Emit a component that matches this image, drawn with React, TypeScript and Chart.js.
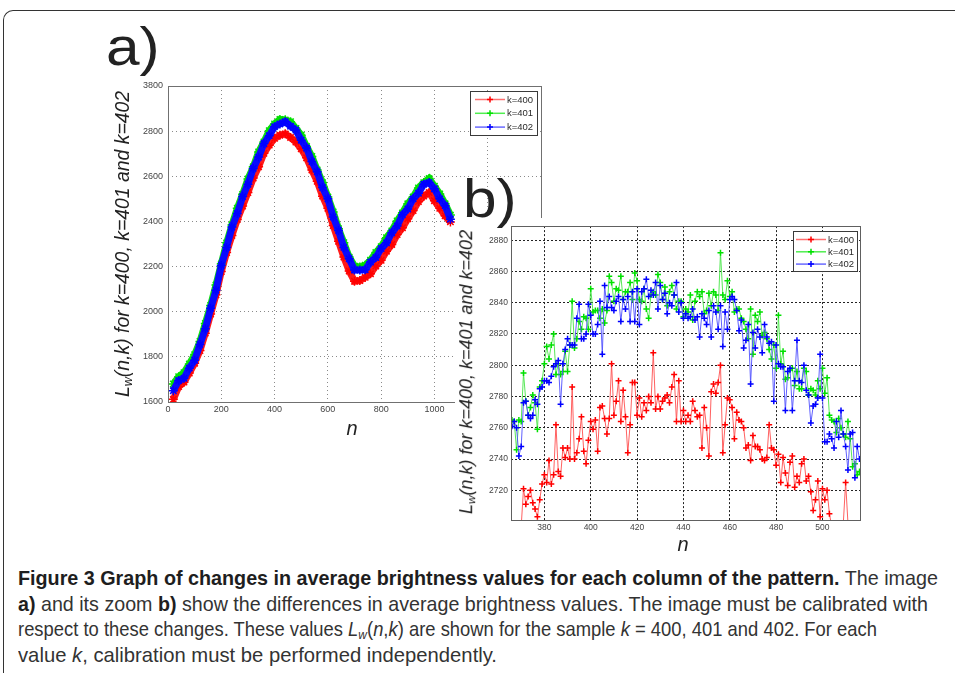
import React, { useEffect, useLayoutEffect, useRef } from 'react';
import { Chart, registerables } from 'chart.js';
Chart.register(...registerables);

// ---------- chart a) data (read every 20 columns) ----------
const aN = [20, 40, 60, 80, 100, 120, 140, 160, 180, 200, 220, 240, 260, 280, 300, 320, 340, 360, 380, 400,
  420, 440, 460, 480, 500, 520, 540, 560, 580, 600, 620, 640, 660, 680, 700, 720, 740, 760, 780, 800,
  820, 840, 860, 880, 900, 920, 940, 960, 980, 1000, 1020, 1040, 1060];
const aRed = [1612, 1668, 1688, 1728, 1772, 1828, 1905, 1990, 2075, 2178,
  2262, 2338, 2408, 2468, 2528, 2592, 2642, 2702, 2738, 2768,
  2782, 2788, 2772, 2752, 2722, 2682, 2628, 2578, 2512, 2458,
  2382, 2312, 2242, 2180, 2135, 2138, 2152, 2168, 2202, 2228,
  2268, 2298, 2342, 2372, 2412, 2448, 2488, 2512, 2528, 2492,
  2458, 2425, 2398];
const aGreen = [1680, 1712, 1730, 1768, 1810, 1868, 1948, 2028, 2118, 2212,
  2305, 2384, 2458, 2520, 2588, 2642, 2708, 2752, 2802, 2832,
  2852, 2850, 2842, 2812, 2782, 2732, 2688, 2628, 2572, 2508,
  2442, 2368, 2306, 2242, 2202, 2198, 2206, 2228, 2262, 2288,
  2328, 2358, 2402, 2438, 2478, 2508, 2548, 2572, 2590, 2556,
  2522, 2478, 2428];
const aBlue = [1650, 1695, 1705, 1750, 1785, 1855, 1925, 2015, 2095, 2205,
  2285, 2375, 2435, 2510, 2565, 2635, 2685, 2745, 2780, 2820,
  2832, 2842, 2822, 2805, 2760, 2725, 2665, 2620, 2550, 2500,
  2420, 2360, 2285, 2235, 2185, 2185, 2186, 2220, 2240, 2280,
  2305, 2350, 2380, 2430, 2455, 2500, 2525, 2565, 2572, 2545,
  2500, 2470, 2410];
const aXTicks = [0, 200, 400, 600, 800, 1000, 1200, 1400];
const aXTickLabels = ['0', '200', '400', '600', '800', '1000', '1200', '1400'];
const aYTicks = [1600, 1800, 2000, 2200, 2400, 2600, 2800, 3000];
const aYTickLabels = ['1600', '1800', '2000', '2200', '2400', '2600', '2800', '3800'];

// ---------- chart b) data (n = 366 ... 516) ----------
const bFirstN = 366;
const bRed = [2698, 2695, 2699, 2694, 2697,
  2721, 2711, 2716, 2720, 2712, 2708, 2703, 2714, 2724, 2730,
  2725, 2739, 2724, 2730, 2762, 2732, 2729, 2747, 2741, 2747,
  2740, 2786, 2740, 2744, 2753, 2767, 2745, 2737, 2752, 2764,
  2759, 2765, 2745, 2773, 2774, 2766, 2756, 2766, 2801, 2768,
  2777, 2790, 2764, 2784, 2767, 2744, 2762, 2789, 2789, 2768,
  2779, 2767, 2776, 2771, 2780, 2776, 2808, 2772, 2780, 2772,
  2777, 2779, 2781, 2776, 2786, 2794, 2764, 2790, 2764, 2771,
  2764, 2768, 2764, 2777, 2771, 2767, 2768, 2747, 2773, 2760,
  2742, 2783, 2788, 2782, 2789, 2800, 2744, 2762, 2779, 2778,
  2773, 2753, 2770, 2765, 2764, 2760, 2747, 2749, 2739, 2755,
  2748, 2748, 2746, 2740, 2739, 2741, 2762, 2747, 2746, 2736,
  2743, 2725, 2741, 2731, 2723, 2738, 2742, 2722, 2729, 2725,
  2737, 2740, 2726, 2729, 2719, 2707, 2714, 2726, 2703, 2721,
  2714, 2720, 2705, 2697,
  2690, 2686, 2692, 2688, 2699, 2725, 2699,
  2692, 2688, 2690, 2686, 2691];
const bGreen = [2765, 2764, 2746, 2765, 2764, 2795, 2777, 2768, 2773, 2781,
  2776, 2759, 2786, 2790, 2801, 2812, 2804, 2813, 2820, 2794,
  2801, 2794, 2796, 2809, 2796, 2813, 2841, 2811, 2817, 2828,
  2823, 2831, 2830, 2823, 2849, 2834, 2835, 2835, 2830, 2836,
  2827, 2835, 2857, 2853, 2841, 2849, 2848, 2857, 2842, 2847,
  2847, 2853, 2842, 2859, 2854, 2842, 2841, 2849, 2836, 2830,
  2845, 2847, 2845, 2858, 2853, 2842, 2850, 2838, 2847, 2851,
  2845, 2836, 2841, 2841, 2831, 2836, 2834, 2845, 2829, 2841,
  2847, 2844, 2847, 2833, 2835, 2846, 2838, 2847, 2845, 2835,
  2872, 2845, 2842, 2854, 2844, 2847, 2834, 2836, 2836, 2830,
  2828, 2823, 2817, 2836, 2807, 2832, 2828, 2834, 2819, 2821,
  2817, 2810, 2804, 2813, 2798, 2832, 2801, 2809, 2791, 2792,
  2797, 2798, 2787, 2796, 2785, 2785, 2798, 2796, 2781, 2785,
  2784, 2781, 2790, 2785, 2798, 2782, 2792, 2768, 2765, 2764,
  2757, 2766, 2760, 2756, 2754, 2764, 2753, 2735, 2737, 2730,
  2732];
const bBlue = [2761, 2764, 2760, 2742, 2748, 2776, 2777, 2768, 2766, 2768,
  2778, 2775, 2785, 2786, 2790, 2790, 2789, 2793, 2799, 2801,
  2803, 2775, 2801, 2810, 2817, 2813, 2813, 2813, 2830, 2839,
  2817, 2817, 2820, 2839, 2832, 2820, 2820, 2826, 2841, 2807,
  2851, 2837, 2844, 2837, 2835, 2841, 2844, 2828, 2842, 2836,
  2844, 2828, 2847, 2828, 2849, 2826, 2847, 2849, 2855, 2844,
  2848, 2845, 2853, 2836, 2851, 2842, 2846, 2833, 2840, 2838,
  2845, 2853, 2834, 2840, 2830, 2833, 2830, 2831, 2836, 2829,
  2831, 2818, 2833, 2830, 2826, 2835, 2818, 2838, 2834, 2823,
  2838, 2812, 2834, 2823, 2842, 2844, 2842, 2835, 2822, 2829,
  2811, 2816, 2826, 2788, 2821, 2811, 2823, 2818, 2808, 2826,
  2818, 2814, 2815, 2777, 2813, 2801, 2799, 2799, 2771, 2796,
  2798, 2771, 2790, 2816, 2790, 2789, 2800, 2784, 2781, 2763,
  2774, 2775, 2779, 2807, 2779, 2751, 2751, 2756, 2753, 2747,
  2764, 2754, 2771, 2756, 2748, 2733, 2756, 2757, 2728, 2748,
  2740];
const bXTicks = [380, 400, 420, 440, 460, 480, 500];
const bYTicks = [2720, 2740, 2760, 2780, 2800, 2820, 2840, 2860, 2880];

const seriesLabels = ['k=400', 'k=401', 'k=402'];
const markerColors = ['#ff0000', '#00e000', '#0000ff'];
const lineColorsA = ['#ff1a1a', '#10e010', '#0a0aff'];
const lineColorsB = ['rgba(255,80,80,0.9)', 'rgba(70,230,70,0.9)', 'rgba(80,80,255,0.9)'];
const legendLineColors = ['#ff7070', '#50ee50', '#6a6aff'];

const SANS = "'Liberation Sans', Arial, sans-serif";

const toPts = (xs: number[], ys: number[]) => xs.map((x, i) => ({ x, y: ys[i] }));
const bN = bBlue.map((_, i) => bFirstN + i);

function drawCross(ctx: CanvasRenderingContext2D, x: number, y: number, r: number) {
  ctx.beginPath();
  ctx.moveTo(x - r, y); ctx.lineTo(x + r, y);
  ctx.moveTo(x, y - r); ctx.lineTo(x, y + r);
  ctx.stroke();
}

const decoPlugin = {
  id: 'deco',
  beforeDraw(chart: any, _a: any, o: any) {
    if (o.white) {
      const ctx = chart.ctx;
      ctx.save();
      ctx.fillStyle = '#ffffff';
      ctx.fillRect(0, 0, chart.width, chart.height);
      ctx.restore();
    }
  },
  afterDraw(chart: any, _a: any, o: any) {
    const { ctx, chartArea } = chart;
    ctx.save();
    ctx.strokeStyle = o.boxColor;
    ctx.lineWidth = 1;
    ctx.strokeRect(Math.round(chartArea.left) + 0.5, Math.round(chartArea.top) + 0.5,
      Math.round(chartArea.right - chartArea.left), Math.round(chartArea.bottom - chartArea.top));
    const L = o.legend;
    const x = Math.round(chartArea.right - L.rightInset - L.w);
    const y = Math.round(chartArea.top + L.topInset);
    ctx.fillStyle = '#fff';
    ctx.fillRect(x, y, L.w, L.h);
    ctx.strokeStyle = '#3a3a3a';
    ctx.lineWidth = 1;
    ctx.strokeRect(x + 0.5, y + 0.5, L.w, L.h);
    ctx.font = `${L.font}px ${SANS}`;
    ctx.textBaseline = 'middle';
    ctx.textAlign = 'left';
    chart.data.datasets.forEach((ds: any, i: number) => {
      const cy = y + L.first + i * L.step;
      ctx.strokeStyle = legendLineColors[i];
      ctx.lineWidth = 1.5;
      ctx.beginPath();
      ctx.moveTo(x + L.l0, cy); ctx.lineTo(x + L.l1, cy);
      ctx.stroke();
      ctx.strokeStyle = markerColors[i];
      ctx.lineWidth = 1.5;
      drawCross(ctx, x + (L.l0 + L.l1) / 2, cy, 3);
      ctx.fillStyle = '#2a2a2a';
      ctx.fillText(ds.label, x + L.tx, cy + 0.5);
    });
    ctx.restore();
  },
};

function makeA(): any {
  const ys = [aRed, aGreen, aBlue];
  return {
    type: 'line',
    data: {
      datasets: ys.map((d, i) => ({
        label: seriesLabels[i],
        data: toPts(aN, d),
        borderColor: lineColorsA[i],
        backgroundColor: markerColors[i],
        borderWidth: 7,
        pointStyle: 'star',
        pointRadius: 4.5,
        pointBorderWidth: 1.5,
        pointBorderColor: markerColors[i],
        tension: 0,
        fill: false,
        order: 3 - i,
      })),
    },
    options: {
      animation: false,
      responsive: false,
      devicePixelRatio: 1,
      layout: { padding: { left: 0, top: 66, right: 19, bottom: 0 } },
      plugins: {
        legend: { display: false },
        tooltip: { enabled: false },
        deco: {
          white: false,
          boxColor: '#707070',
          legend: { w: 67, h: 44, rightInset: 4, topInset: 5, first: 8.5, step: 13.8, l0: 5, l1: 35, tx: 37, font: 9.5 },
        },
      },
      scales: {
        x: {
          type: 'linear', min: 0, max: 1400,
          afterBuildTicks: (s: any) => { s.ticks = aXTicks.map((v) => ({ value: v })); },
          afterFit: (s: any) => { s.height = 48; },
          grid: { color: '#8a8a8a', lineWidth: 1, drawTicks: false },
          border: { display: false, dash: [1, 3] },
          ticks: {
            color: '#444', font: { size: 9, family: SANS }, padding: 2, maxRotation: 0, autoSkip: false,
            callback: (v: number) => aXTickLabels[aXTicks.indexOf(v)] ?? '',
          },
        },
        y: {
          type: 'linear', min: 1600, max: 3000,
          afterBuildTicks: (s: any) => { s.ticks = aYTicks.map((v) => ({ value: v })); },
          afterFit: (s: any) => { s.width = 68; },
          grid: { color: '#8a8a8a', lineWidth: 1, drawTicks: false },
          border: { display: false, dash: [1, 3] },
          ticks: {
            color: '#444', font: { size: 9, family: SANS }, padding: 5, autoSkip: false,
            callback: (v: number) => aYTickLabels[aYTicks.indexOf(v)] ?? '',
          },
        },
      },
    },
    plugins: [decoPlugin],
  };
}

function makeB(): any {
  const ys = [bRed, bGreen, bBlue];
  return {
    type: 'line',
    data: {
      datasets: ys.map((d, i) => ({
        label: seriesLabels[i],
        data: toPts(bN, d),
        borderColor: lineColorsB[i],
        backgroundColor: markerColors[i],
        borderWidth: 1,
        pointStyle: 'cross',
        pointRadius: 3,
        pointBorderWidth: 1.5,
        pointBorderColor: markerColors[i],
        tension: 0,
        fill: false,
        clip: 0,
        order: 3 - i,
      })),
    },
    options: {
      animation: false,
      responsive: false,
      devicePixelRatio: 1,
      layout: { padding: { left: 0, top: 6, right: 15, bottom: 0 } },
      plugins: {
        legend: { display: false },
        tooltip: { enabled: false },
        deco: {
          white: true,
          boxColor: '#606060',
          legend: { w: 64, h: 40, rightInset: 3, topInset: 5, first: 8.5, step: 12.3, l0: 3, l1: 33, tx: 35, font: 9.5 },
        },
      },
      scales: {
        x: {
          type: 'linear', min: 365.6, max: 516.2,
          afterBuildTicks: (s: any) => { s.ticks = bXTicks.map((v) => ({ value: v })); },
          afterFit: (s: any) => { s.height = 38; },
          grid: { color: '#222', lineWidth: 1, drawTicks: false },
          border: { display: false, dash: [2, 2] },
          ticks: {
            color: '#444', font: { size: 8.5, family: SANS }, padding: 3, maxRotation: 0, autoSkip: false,
            callback: (v: number) => String(v),
          },
        },
        y: {
          type: 'linear', min: 2701, max: 2889,
          afterBuildTicks: (s: any) => { s.ticks = bYTicks.map((v) => ({ value: v })); },
          afterFit: (s: any) => { s.width = 56; },
          grid: { color: '#222', lineWidth: 1, drawTicks: false },
          border: { display: false, dash: [2, 2] },
          ticks: {
            color: '#444', font: { size: 8.5, family: SANS }, padding: 3, autoSkip: false,
            callback: (v: number) => String(v),
          },
        },
      },
    },
    plugins: [decoPlugin],
  };
}

const YTitle = ({ cx, cy, size }: { cx: number; cy: number; size: number }) => (
  <div style={{
    position: 'absolute', left: cx, top: cy, transform: 'translate(-50%, -50%) rotate(-90deg)',
    whiteSpace: 'nowrap', fontFamily: SANS, fontStyle: 'italic', fontSize: size, color: '#222', lineHeight: 1, zIndex: 5,
  }}>
    L<sub style={{ fontSize: '0.65em', verticalAlign: '-0.25em' }}>w</sub>(n,k) for k=400, k=401 and k=402
  </div>
);

const captionTargets = [920, 910, 859, 479];

export default function App() {
  const aRef = useRef<HTMLCanvasElement>(null);
  const bRef = useRef<HTMLCanvasElement>(null);
  const lineRefs = useRef<(HTMLSpanElement | null)[]>([]);

  useEffect(() => {
    const ca = new Chart(aRef.current as HTMLCanvasElement, makeA());
    const cb = new Chart(bRef.current as HTMLCanvasElement, makeB());
    return () => { ca.destroy(); cb.destroy(); };
  }, []);

  useLayoutEffect(() => {
    lineRefs.current.forEach((el, i) => {
      if (!el) return;
      el.style.transform = 'none';
      const w = el.getBoundingClientRect().width;
      if (w > 0) el.style.transform = `scaleX(${captionTargets[i] / w})`;
    });
  }, []);

  const capBase: React.CSSProperties = {
    position: 'absolute', left: 18, whiteSpace: 'nowrap', fontFamily: "'Liberation Sans Narrow', 'Liberation Sans', Arial, sans-serif",
    fontSize: 21, lineHeight: '22px', color: '#333',
  };
  const lineSpan: React.CSSProperties = { display: 'inline-block', transformOrigin: '0 50%' };
  const capTops = [567, 593, 618, 644];
  const bigLabel: React.CSSProperties = {
    position: 'absolute', fontFamily: SANS, fontSize: 53, lineHeight: '53px', color: '#222', zIndex: 5,
    transform: 'scaleX(1.14)', transformOrigin: '0 50%',
  };

  return (
    <div style={{ position: 'absolute', left: 0, top: 0, width: 955, height: 673, background: '#fff', overflow: 'hidden' }}>
      <div style={{
        position: 'absolute', left: 3, top: 10, width: 1000, height: 700,
        borderLeft: '1.5px solid #333', borderTop: '1.5px solid #333', borderTopLeftRadius: 10,
      }} />
      <canvas ref={aRef} width={460} height={430}
        style={{ position: 'absolute', left: 100, top: 20, width: 460, height: 430, zIndex: 1 }} />
      <canvas ref={bRef} width={420} height={340}
        style={{ position: 'absolute', left: 455, top: 218, width: 420, height: 340, zIndex: 2 }} />

      <div style={{ ...bigLabel, left: 106, top: 20 }}>a)</div>
      <div style={{ ...bigLabel, left: 463, top: 172 }}>b)</div>

      <YTitle cx={124} cy={244} size={19.4} />
      <YTitle cx={467} cy={372} size={18} />
      <div style={{ position: 'absolute', left: 352, top: 428, transform: 'translate(-50%, -50%)', fontFamily: SANS, fontStyle: 'italic', fontSize: 20, color: '#222', zIndex: 5 }}>n</div>
      <div style={{ position: 'absolute', left: 683, top: 544, transform: 'translate(-50%, -50%)', fontFamily: SANS, fontStyle: 'italic', fontSize: 20, color: '#222', zIndex: 5 }}>n</div>

      <div style={{ ...capBase, top: capTops[0] }}>
        <span ref={(el) => { lineRefs.current[0] = el; }} style={lineSpan}>
          <b style={{ color: '#1e1e1e' }}>Figure 3 Graph of changes in average brightness values for each column of the pattern.</b> The image
        </span>
      </div>
      <div style={{ ...capBase, top: capTops[1] }}>
        <span ref={(el) => { lineRefs.current[1] = el; }} style={lineSpan}>
          <b style={{ color: '#1e1e1e' }}>a)</b> and its zoom <b style={{ color: '#1e1e1e' }}>b)</b> show the differences in average brightness values. The image must be calibrated with
        </span>
      </div>
      <div style={{ ...capBase, top: capTops[2] }}>
        <span ref={(el) => { lineRefs.current[2] = el; }} style={lineSpan}>
          respect to these changes. These values <i>L</i><sub style={{ fontSize: '0.65em', verticalAlign: '-0.2em' }}><i>w</i></sub>(<i>n</i>,<i>k</i>) are shown for the sample <i>k</i> = 400, 401 and 402. For each
        </span>
      </div>
      <div style={{ ...capBase, top: capTops[3] }}>
        <span ref={(el) => { lineRefs.current[3] = el; }} style={lineSpan}>
          value <i>k</i>, calibration must be performed independently.
        </span>
      </div>
    </div>
  );
}
